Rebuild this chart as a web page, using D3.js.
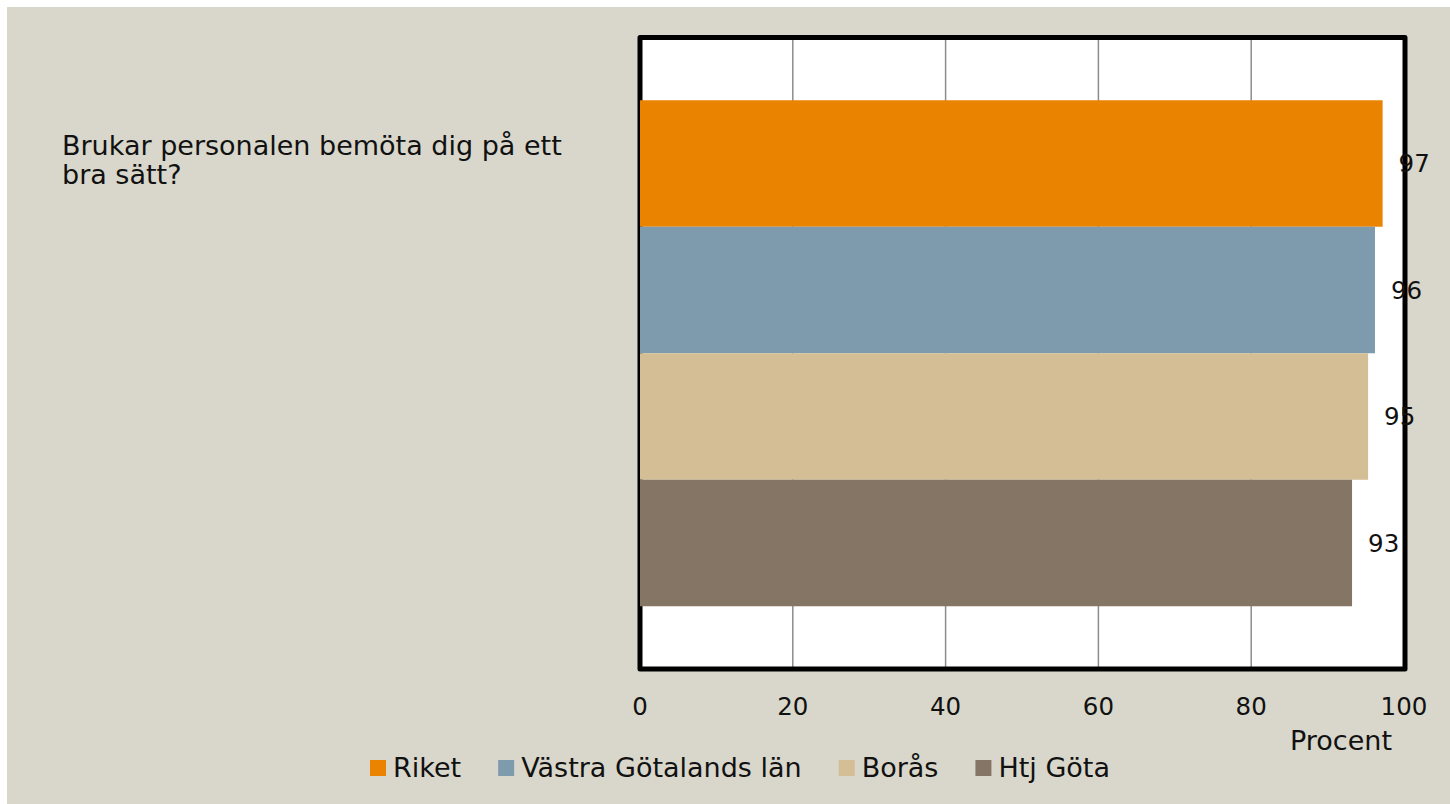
<!DOCTYPE html>
<html>
<head>
<meta charset="utf-8">
<script src="https://cdn.jsdelivr.net/npm/d3@7"></script>
<style>
  html, body { margin: 0; padding: 0; background: #ffffff; }
  svg text { font-family: "DejaVu Sans", sans-serif; fill: #111; }
</style>
</head>
<body>
<div id="chart"></div>
<script>
// Chart data
const question = "Brukar personalen bemöta dig på ett bra sätt?";
const titleLines = ["Brukar personalen bemöta dig på ett", "bra sätt?"];
const seriesNames = ["Riket", "Västra Götalands län", "Borås", "Htj Göta"];
const seriesValues = [97.2, 96.2, 95.3, 93.2];
const seriesColors = ["#e98300", "#7e9aad", "#d3be95", "#857564"];
const xTicks = [0, 20, 40, 60, 80, 100];
const xAxisTitle = "Procent";

const width = 1450, height = 804;
const plot = { left: 640, right: 1404, top: 37.5, bottom: 669 };
const textSize = 27;   // words
const numSize = 24.5;  // digits

let svg = d3.select("#chart").append("svg")
    .attr("width", width)
    .attr("height", height);

// background panel
svg.append("rect")
    .attr("x", 7).attr("y", 7)
    .attr("width", width - 7).attr("height", height - 7)
    .attr("fill", "#d9d7cb");

let x = d3.scaleLinear().domain([0, 100]).range([plot.left, plot.right]);

let yGroup = d3.scaleBand()
    .domain([question])
    .range([plot.top, plot.bottom])
    .paddingInner(0)
    .paddingOuter(0.124);

let ySeries = d3.scaleBand()
    .domain(seriesNames)
    .range([0, yGroup.bandwidth()]);

// plot area fill
svg.append("rect")
    .attr("x", plot.left).attr("y", plot.top)
    .attr("width", plot.right - plot.left + 1)
    .attr("height", plot.bottom - plot.top)
    .attr("fill", "#ffffff");

// vertical gridlines
svg.append("g")
    .selectAll("line")
    .data(xTicks.filter(t => t > 0 && t < 100))
    .enter().append("line")
    .attr("x1", d => x(d)).attr("x2", d => x(d))
    .attr("y1", plot.top).attr("y2", plot.bottom)
    .attr("stroke", "#8c8c8c")
    .attr("stroke-width", 1.5);

// frame
svg.append("rect")
    .attr("x", plot.left).attr("y", plot.top)
    .attr("width", plot.right - plot.left + 1)
    .attr("height", plot.bottom - plot.top)
    .attr("fill", "none")
    .attr("stroke", "#000")
    .attr("stroke-width", 5)
    .attr("stroke-linejoin", "round");

// bars
let bars = seriesNames.map((name, i) => ({ name, value: seriesValues[i], color: seriesColors[i] }));
let groupY = yGroup(question);

svg.append("g")
    .selectAll("rect")
    .data(bars)
    .enter().append("rect")
    .attr("x", x(0))
    .attr("y", d => groupY + ySeries(d.name))
    .attr("width", d => x(d.value) - x(0))
    .attr("height", ySeries.bandwidth())
    .attr("fill", d => d.color);

// value labels
svg.append("g")
    .selectAll("text")
    .data(bars)
    .enter().append("text")
    .attr("x", d => x(d.value) + 16)
    .attr("y", d => groupY + ySeries(d.name) + ySeries.bandwidth() / 2)
    .attr("dy", "0.35em")
    .style("font-size", numSize + "px")
    .text(d => d3.format(".0f")(d.value));

// x axis tick labels
svg.append("g")
    .selectAll("text")
    .data(xTicks)
    .enter().append("text")
    .attr("x", d => x(d))
    .attr("y", 715)
    .attr("text-anchor", "middle")
    .style("font-size", numSize + "px")
    .text(d => d);

svg.append("text")
    .attr("x", x(100) - 12)
    .attr("y", 750)
    .attr("text-anchor", "end")
    .style("font-size", textSize + "px")
    .text(xAxisTitle);

// category label (question)
svg.append("text")
    .attr("x", 62)
    .attr("y", 155)
    .style("font-size", textSize + "px")
    .selectAll("tspan")
    .data(titleLines)
    .enter().append("tspan")
    .attr("x", 62)
    .attr("dy", (d, i) => i === 0 ? 0 : 29)
    .text(d => d);

// legend
let legend = svg.append("g");
let cursor = 0;
bars.forEach((d, i) => {
    let item = legend.append("g").attr("transform", `translate(${cursor},0)`);
    item.append("rect")
        .attr("x", 0).attr("y", -8)
        .attr("width", 16).attr("height", 16)
        .attr("fill", d.color);
    let t = item.append("text")
        .attr("x", 23)
        .attr("y", 0)
        .attr("dy", "0.35em")
        .style("font-size", textSize + "px")
        .text(d.name);
    cursor += 23 + t.node().getComputedTextLength() + 37;
});
let legendWidth = cursor - 37;
legend.attr("transform", `translate(${740 - legendWidth / 2},768)`);
</script>
</body>
</html>
